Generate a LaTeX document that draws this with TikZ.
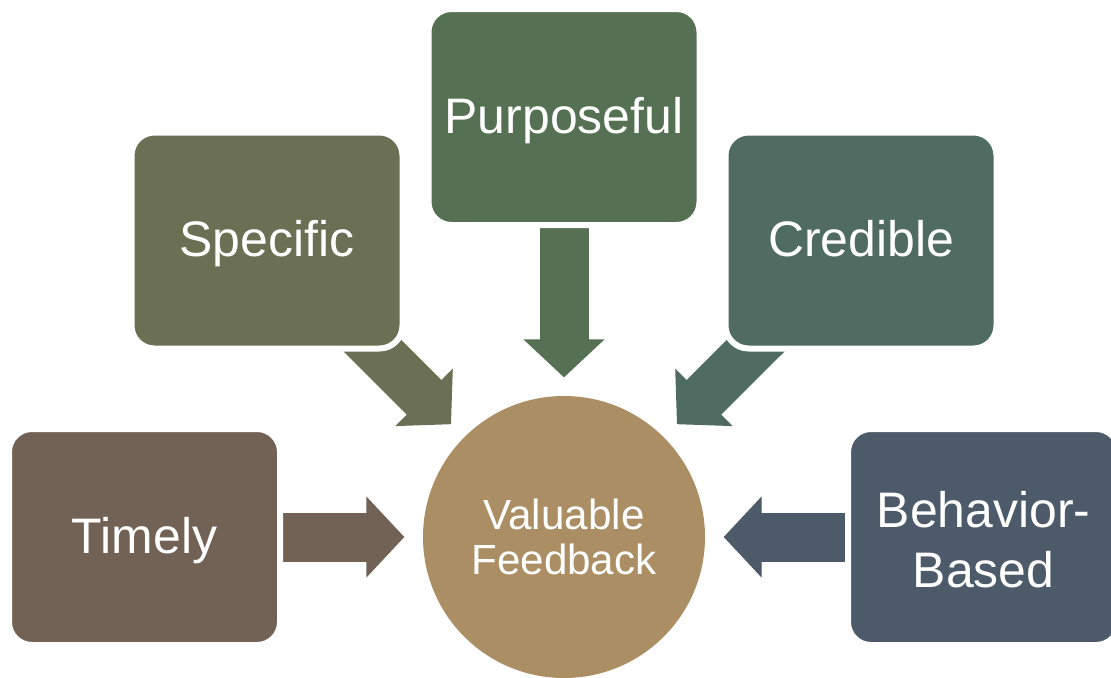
\documentclass[tikz,border=0pt]{standalone}
\usepackage{fontspec}
\setmainfont{Liberation Sans}
\usetikzlibrary{arrows.meta,backgrounds,shapes,positioning}

\definecolor{timelycol}{HTML}{726155}
\definecolor{specificcol}{HTML}{6B6F53}
\definecolor{purposecol}{HTML}{557052}
\definecolor{crediblecol}{HTML}{506C62}
\definecolor{behavecol}{HTML}{4D5A69}
\definecolor{valuecol}{HTML}{AC8E65}

\begin{document}
\begin{tikzpicture}[
    box/.style={rectangle, rounded corners=2.3mm, draw=white, line width=0.6mm,
      minimum width=2.71cm, minimum height=2.16cm, text=white, align=center,
      text height=0.37cm, text depth=0.05cm,
      font=\fontsize{14.2}{17}\selectfont},
    flow/.style={line width=4.9mm, shorten >=1.8mm,
      -{Triangle[length=3.8mm,width=8.1mm,line width=0.4pt]}}]
      \useasboundingbox (0,0) rectangle (11.11,6.77);
      % centre
      \node[circle, fill=valuecol, minimum size=2.82cm, inner sep=0pt, text=white,
        align=center, font=\fontsize{12}{13}\selectfont] at (5.64,1.40) (val) {Valuable\\Feedback};
      % qualities around it
      \node[box, fill=timelycol] at (1.445,1.40) (timely) {Timely};
      \node[box, fill=specificcol] at (2.67,4.365) (specific) {Specific};
      \node[box, fill=purposecol] at (5.64,5.60) (purpose) {Purposeful};
      \node[box, fill=crediblecol] at (8.61,4.365) (credible) {Credible};
      \node[box, fill=behavecol, text height=1.05cm] at (9.835,1.40) (behave) {Behavior-\\Based};
      % block arrows, tails hidden under the boxes
      \begin{scope}[on background layer]
        \draw[flow, timelycol] (timely.center) -- (val);
        \draw[flow, specificcol] (specific.center) -- (val);
        \draw[flow, purposecol] (purpose.center) -- (val);
        \draw[flow, crediblecol] (credible.center) -- (val);
        \draw[flow, behavecol] (behave.center) -- (val);
      \end{scope}
\end{tikzpicture}
\end{document}
